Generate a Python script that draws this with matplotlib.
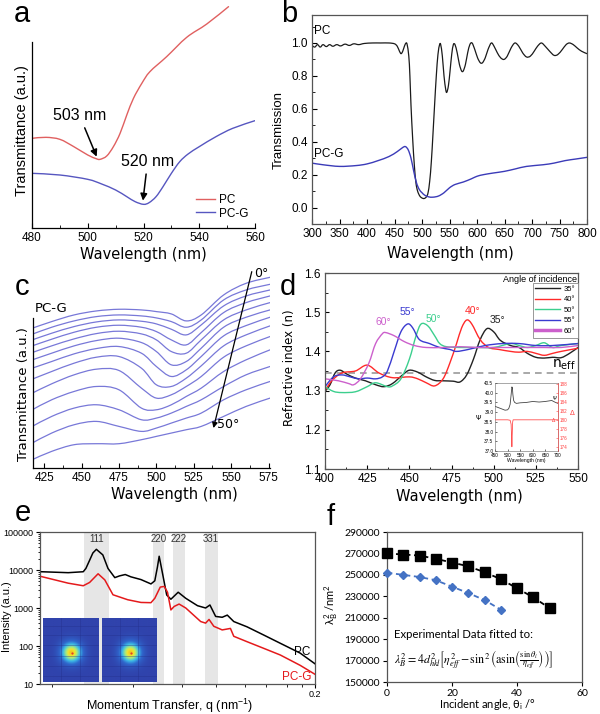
import numpy as np
import matplotlib
matplotlib.use('Agg')
import matplotlib.pyplot as plt
from matplotlib.ticker import MultipleLocator, NullFormatter, LogLocator, FormatStrFormatter
from matplotlib.lines import Line2D
from matplotlib.colors import LinearSegmentedColormap
from matplotlib.path import Path
from matplotlib.patches import PathPatch
import matplotlib.transforms as mtrans

plt.rcParams['font.family'] = ['Liberation Sans', 'DejaVu Sans']
plt.rcParams['axes.linewidth'] = 0.9

# ---------------- data ----------------
# panel a
a_pc_x = [480, 485, 490, 495, 500, 503, 504.4, 506.8, 509.2, 511.6, 514, 516.4, 519.4, 522.3, 528.3, 535.5, 542.7, 550.5]
a_pc_y = [2.85, 2.88, 2.82, 2.60, 2.35, 2.24, 2.22, 2.32, 2.60, 3.00, 3.55, 4.05, 4.50, 4.85, 5.30, 5.88, 6.28, 6.80]
a_pcg_x = [480, 490, 500, 505, 510, 514, 517, 520, 522, 524.5, 527, 530, 533, 536, 540, 546, 552, 560]
a_pcg_y = [1.80, 1.75, 1.62, 1.48, 1.30, 1.10, 0.95, 0.87, 0.92, 1.10, 1.40, 1.80, 2.15, 2.38, 2.60, 2.90, 3.15, 3.38]

# panel b
b_pc_x = [300, 305, 310, 315, 320, 326, 332, 338, 345, 352, 360, 368, 376, 385, 395, 410, 425, 440, 450, 455,
          459, 462, 465, 468, 471, 473, 476, 478, 480, 483, 486, 489, 492, 496, 500, 504, 508, 511, 514, 517,
          520, 523, 526, 529, 532, 534, 537, 540, 543, 545, 548, 551, 554, 557, 560, 564, 568, 572, 575, 579,
          583, 587, 591, 596, 601, 606, 610, 615, 620, 626, 631, 637, 643, 649, 655, 662, 669, 676, 683, 690,
          697, 704, 710, 717, 724, 732, 740, 747, 755, 762, 768, 775, 782, 790, 800]
b_pc_y = [0.985, 0.975, 0.99, 0.975, 0.99, 0.978, 0.99, 0.98, 0.99, 0.982, 0.993, 0.985, 0.995, 0.99, 0.997, 1.0, 1.0, 1.0, 0.995, 0.98,
          0.95, 0.935, 0.95, 0.98, 1.0, 0.99, 0.92, 0.80, 0.62, 0.42, 0.26, 0.15, 0.10, 0.07, 0.058, 0.055, 0.065, 0.09, 0.16, 0.28,
          0.45, 0.63, 0.80, 0.93, 0.99, 0.99, 0.92, 0.80, 0.72, 0.70, 0.74, 0.83, 0.93, 0.99, 0.99, 0.94, 0.87, 0.83, 0.83, 0.87,
          0.94, 0.99, 1.0, 0.96, 0.91, 0.88, 0.88, 0.91, 0.96, 1.0, 0.98, 0.94, 0.91, 0.90, 0.92, 0.97, 1.0, 0.98, 0.94, 0.915,
          0.92, 0.95, 0.98, 1.0, 0.98, 0.95, 0.925, 0.93, 0.96, 0.99, 1.0, 0.99, 0.97, 0.95, 0.935]
b_pcg_x = [300, 320, 350, 380, 400, 420, 440, 455, 465, 470, 475, 480, 485, 490, 495, 500, 505, 512, 520, 530,
           540, 550, 560, 575, 590, 600, 612, 630, 650, 670, 690, 720, 740, 760, 780, 800]
b_pcg_y = [0.27, 0.26, 0.25, 0.255, 0.265, 0.285, 0.31, 0.34, 0.365, 0.37, 0.35, 0.30, 0.22, 0.15, 0.11, 0.09, 0.075, 0.065, 0.063, 0.07,
           0.09, 0.12, 0.14, 0.155, 0.175, 0.19, 0.20, 0.21, 0.22, 0.235, 0.25, 0.26, 0.27, 0.285, 0.295, 0.305]

# panel c (13 spectra, offset, a.u.)
c_x = [417, 430, 445, 460, 475, 490, 500, 510, 520, 530, 545, 560, 576]
c_curves = [
    [4.35, 4.55, 4.75, 4.87, 4.92, 4.90, 4.85, 4.78, 4.57, 4.75, 5.35, 5.70, 5.88],
    [4.17, 4.38, 4.57, 4.70, 4.75, 4.72, 4.66, 4.55, 4.38, 4.60, 5.20, 5.50, 5.67],
    [4.00, 4.20, 4.40, 4.54, 4.60, 4.56, 4.48, 4.32, 4.15, 4.45, 5.02, 5.32, 5.50],
    [3.82, 4.02, 4.23, 4.38, 4.44, 4.38, 4.25, 4.00, 3.85, 4.22, 4.82, 5.12, 5.32],
    [3.62, 3.82, 4.03, 4.19, 4.26, 4.18, 4.00, 3.65, 3.60, 4.00, 4.60, 4.90, 5.12],
    [3.40, 3.60, 3.82, 3.98, 4.05, 3.92, 3.65, 3.25, 3.35, 3.75, 4.38, 4.68, 4.90],
    [3.15, 3.35, 3.58, 3.74, 3.80, 3.60, 3.20, 2.90, 3.10, 3.50, 4.12, 4.43, 4.68],
    [2.82, 3.05, 3.30, 3.48, 3.50, 3.15, 2.65, 2.60, 2.85, 3.22, 3.82, 4.15, 4.42],
    [2.40, 2.68, 2.95, 3.12, 3.08, 2.55, 2.25, 2.35, 2.60, 2.90, 3.48, 3.82, 4.10],
    [1.90, 2.20, 2.45, 2.60, 2.50, 1.95, 1.90, 2.05, 2.30, 2.55, 3.05, 3.40, 3.70],
    [1.40, 1.70, 1.95, 2.05, 1.90, 1.60, 1.65, 1.80, 2.00, 2.20, 2.60, 2.95, 3.20],
    [0.90, 1.20, 1.45, 1.55, 1.40, 1.25, 1.35, 1.50, 1.65, 1.80, 2.20, 2.50, 2.75],
    [0.40, 0.65, 0.85, 0.88, 0.88, 1.00, 1.10, 1.20, 1.30, 1.40, 1.70, 2.00, 2.25],
]

# panel d
d_35_x = [400, 403, 406, 409, 413, 418, 424, 430, 435, 440, 446, 450, 455, 460, 465, 470, 476, 480, 484, 488, 492, 496, 500, 504, 510, 515, 520, 525, 530, 535, 540, 545, 550]
d_35_n = [1.298, 1.315, 1.345, 1.352, 1.342, 1.332, 1.325, 1.315, 1.31, 1.318, 1.34, 1.352, 1.347, 1.335, 1.326, 1.325, 1.324, 1.322, 1.34, 1.38, 1.43, 1.458, 1.45, 1.428, 1.415, 1.41, 1.395, 1.385, 1.383, 1.385, 1.384, 1.395, 1.41]
d_40_x = [400, 404, 410, 418, 425, 432, 440, 450, 455, 460, 465, 470, 474, 478, 481, 484, 487, 492, 497, 503, 510, 515, 520, 525, 530, 535, 540, 550]
d_40_n = [1.30, 1.325, 1.345, 1.35, 1.365, 1.345, 1.333, 1.335, 1.33, 1.32, 1.312, 1.33, 1.37, 1.42, 1.46, 1.48, 1.47, 1.43, 1.41, 1.405, 1.40, 1.398, 1.40, 1.395, 1.39, 1.395, 1.40, 1.408]
d_50_x = [400, 405, 410, 418, 425, 430, 437, 440, 445, 450, 454, 457, 461, 465, 468, 472, 480, 490, 500, 510, 515, 520, 525, 530, 535, 540, 550]
d_50_n = [1.31, 1.298, 1.295, 1.297, 1.31, 1.32, 1.31, 1.312, 1.33, 1.38, 1.44, 1.47, 1.465, 1.44, 1.42, 1.412, 1.41, 1.41, 1.41, 1.42, 1.415, 1.41, 1.415, 1.422, 1.41, 1.415, 1.42]
d_55_x = [400, 405, 410, 415, 420, 425, 430, 434, 437, 441, 445, 449, 452, 456, 462, 468, 474, 478, 485, 495, 505, 515, 525, 535, 550]
d_55_n = [1.31, 1.335, 1.34, 1.335, 1.33, 1.332, 1.33, 1.335, 1.35, 1.40, 1.45, 1.47, 1.46, 1.43, 1.42, 1.41, 1.405, 1.40, 1.405, 1.415, 1.42, 1.42, 1.415, 1.415, 1.42]
d_60_x = [400, 408, 414, 417, 421, 426, 430, 434, 436, 441, 447, 453, 460, 470, 480, 490, 500, 510, 520, 530, 540, 550]
d_60_n = [1.33, 1.325, 1.318, 1.315, 1.33, 1.37, 1.42, 1.445, 1.448, 1.44, 1.425, 1.415, 1.41, 1.41, 1.412, 1.41, 1.41, 1.41, 1.41, 1.41, 1.41, 1.415]
d_labels = ['35°', '40°', '50°', '55°', '60°']
n_eff = 1.345
# inset of d
psi_x = [450, 460, 470, 480, 490, 500, 505, 510, 514, 517, 519, 521, 524, 528, 535, 550, 575, 600, 625, 650, 675, 690, 700]
psi_y = [39.3, 39.25, 39.2, 39.15, 39.1, 39.12, 39.2, 39.4, 39.9, 40.3, 40.25, 39.9, 39.6, 39.5, 39.45, 39.48, 39.5, 39.55, 39.52, 39.55, 39.6, 39.5, 39.45]
delta_x = [450, 500, 510, 514, 516, 517, 518, 520, 522, 530, 600, 700]
delta_y = [180, 180, 179.9, 179, 176, 174, 176, 179.5, 180, 180, 180, 180]

# panel e
e_q_pc = [0.0249, 0.0305, 0.0342, 0.0349, 0.0359, 0.0368, 0.0378, 0.0397, 0.0413, 0.0435, 0.0451, 0.0471, 0.0492, 0.0531, 0.0573, 0.0590, 0.0602, 0.0610, 0.0626, 0.0646, 0.0667, 0.0705, 0.0747, 0.0817, 0.0869, 0.0898, 0.0938, 0.0986, 0.1025, 0.1077, 0.1191, 0.1352, 0.1535, 0.1786, 0.2]
e_I_pc = [9000, 8500, 9000, 11000, 18000, 28000, 35000, 25000, 11000, 6300, 7000, 7600, 6600, 5600, 4300, 5200, 12000, 23000, 8000, 2200, 1700, 2600, 1800, 1150, 1000, 1200, 600, 570, 650, 440, 320, 195, 118, 65, 34]
e_q_pcg = [0.0249, 0.0305, 0.0342, 0.0359, 0.0383, 0.0403, 0.0429, 0.048, 0.0531, 0.0573, 0.059, 0.0615, 0.0634, 0.065, 0.0667, 0.0684, 0.071, 0.0747, 0.0837, 0.0869, 0.0892, 0.0925, 0.0986, 0.105, 0.1077, 0.1191, 0.1352, 0.1535, 0.1786, 0.2]
e_I_pcg = [6700, 4500, 3850, 4700, 7950, 5500, 2230, 1650, 1400, 1380, 1800, 3550, 3700, 2600, 890, 1100, 1270, 1000, 440, 400, 500, 330, 265, 290, 180, 130, 87, 58, 31, 18]
e_bands = [(0.0343, 0.0416), (0.0580, 0.0635), (0.0676, 0.0741), (0.0862, 0.0952)]
e_band_labels = ['111', '220', '222', '331']

# panel f
f_x_pc = [0, 5, 10, 15, 20, 25, 30, 35, 40, 45, 50]
f_y_pc = [270000, 269000, 268000, 265000, 261500, 258000, 252500, 246000, 237500, 229000, 219000]
f_x_pcg = [0, 5, 10, 15, 20, 25, 30, 35]
f_y_pcg = [252000, 250000, 248000, 245000, 239000, 233000, 226500, 217500]

# ---------------- figure ----------------
W, H = 600, 714
fig = plt.figure(figsize=(6, 7.14), dpi=100)


def rect(x0, y0, x1, y1):
    return [x0 / W, 1 - y1 / H, (x1 - x0) / W, (y1 - y0) / H]


def ftext(x, y, s, **kw):
    return fig.text(x / W, 1 - y / H, s, **kw)


def smooth(ax, x, y, color, lw=1.0, zorder=2):
    """Draw the read points as a smooth (Catmull-Rom / Bezier) line in data coordinates."""
    p = np.column_stack([x, y]).astype(float)
    n = len(p)
    verts = [p[0]]
    codes = [Path.MOVETO]
    for i in range(n - 1):
        p0 = p[i - 1] if i > 0 else p[i]
        p3 = p[i + 2] if i + 2 < n else p[i + 1]
        verts += [p[i] + (p[i + 1] - p0) / 6.0, p[i + 1] - (p3 - p[i]) / 6.0, p[i + 1]]
        codes += [Path.CURVE4] * 3
    patch = PathPatch(Path(verts, codes), fill=False, edgecolor=color, lw=lw, zorder=zorder,
                      capstyle='round', joinstyle='round')
    ax.add_patch(patch)
    return patch


# ---- panel a ----
axa = fig.add_axes(rect(32, 5, 255, 228))
axa.patch.set_visible(False)
smooth(axa, a_pc_x, a_pc_y, '#e06060', 1.0)
smooth(axa, a_pcg_x, a_pcg_y, '#5656c0', 1.0)
axa.set_xlim(480, 560)
axa.set_ylim(0.16, 6.85)
for s in ['top', 'right']:
    axa.spines[s].set_visible(False)
axa.spines['left'].set_bounds(0.16, 5.75)
axa.set_yticks([])
axa.xaxis.set_major_locator(MultipleLocator(20))
axa.xaxis.set_minor_locator(MultipleLocator(10))
axa.tick_params(axis='x', which='major', direction='in', length=3.5, labelsize=8.5, pad=3)
axa.tick_params(axis='x', which='minor', direction='in', length=2)
axa.annotate('503 nm', xy=(503.2, 2.3), xytext=(497.0, 3.55), ha='center', va='center', fontsize=11.5,
             arrowprops=dict(arrowstyle='-|>', color='black', lw=1.1, mutation_scale=10, shrinkA=2, shrinkB=0))
axa.annotate('520 nm', xy=(519.8, 0.98), xytext=(521.5, 2.17), ha='center', va='center', fontsize=11.5,
             arrowprops=dict(arrowstyle='-|>', color='black', lw=1.1, mutation_scale=10, shrinkA=2, shrinkB=0))
axa.legend([Line2D([], [], color='#e06060', lw=1.0), Line2D([], [], color='#5656c0', lw=1.0)], ['PC', 'PC-G'],
           loc='lower right', bbox_to_anchor=(1.02, -0.01), frameon=False, fontsize=8.5,
           handlelength=1.6, handletextpad=0.4, labelspacing=0.15)

# ---- panel b ----
axb = fig.add_axes(rect(312, 15, 587, 224))
smooth(axb, b_pc_x, b_pc_y, '#1a1a1a', 0.9)
smooth(axb, b_pcg_x, b_pcg_y, '#3b3bb8', 1.0)
axb.set_xlim(300, 800)
axb.set_ylim(-0.1, 1.17)
axb.xaxis.set_major_locator(MultipleLocator(50))
axb.xaxis.set_minor_locator(MultipleLocator(25))
axb.yaxis.set_major_locator(MultipleLocator(0.2))
axb.yaxis.set_minor_locator(MultipleLocator(0.1))
axb.yaxis.set_major_formatter(FormatStrFormatter('%.1f'))
axb.tick_params(which='major', direction='in', length=3.5, labelsize=8.5, pad=3)
axb.tick_params(which='minor', direction='in', length=2)
for s in axb.spines.values():
    s.set_color('#555555')
axb.text(304, 1.07, 'PC', fontsize=8.5, va='center')
axb.text(304, 0.325, 'PC-G', fontsize=8.5, va='center')

# ---- panel c ----
axc = fig.add_axes(rect(33, 270, 270, 468))
axc.patch.set_visible(False)
for cy in c_curves:
    smooth(axc, c_x, cy, '#7878d8', 0.9)
axc.set_xlim(417.5, 576)
axc.set_ylim(0.15, 6.1)
for s in ['top', 'right']:
    axc.spines[s].set_visible(False)
axc.spines['left'].set_bounds(0.15, 4.65)
axc.set_yticks([])
axc.xaxis.set_major_locator(MultipleLocator(25))
axc.xaxis.set_minor_locator(MultipleLocator(12.5))
axc.tick_params(axis='x', which='major', direction='in', length=3.5, labelsize=8.5, pad=3)
axc.tick_params(axis='x', which='minor', direction='in', length=2)
axc.annotate('', xy=(538.2, 1.35), xytext=(563.8, 6.05),
             arrowprops=dict(arrowstyle='-|>', color='black', lw=0.9, mutation_scale=8, shrinkA=0, shrinkB=0),
             annotation_clip=False)
axc.text(565.5, 6.0, '0°', fontsize=9, va='center', ha='left', family='DejaVu Sans')
axc.text(540.5, 1.45, '50°', fontsize=9, va='center', ha='left', family='DejaVu Sans')
axc.text(418.5, 4.95, 'PC-G', fontsize=9.5, va='center', ha='left', family='DejaVu Sans')

# ---- panel d ----
axd = fig.add_axes(rect(325, 273, 578, 469))
d_colors = ['#222222', '#ff2a2a', '#3ccf8e', '#3a3ad0', '#cc60cc']
d_series = [(d_35_x, d_35_n), (d_40_x, d_40_n), (d_50_x, d_50_n), (d_55_x, d_55_n), (d_60_x, d_60_n)]
for (xx, yy), col in zip(d_series, d_colors):
    smooth(axd, xx, yy, col, 1.0)
axd.axhline(n_eff, color='#9a9a9a', lw=1.2, ls=(0, (4, 3)), zorder=0)
axd.set_xlim(400, 550)
axd.set_ylim(1.1, 1.6)
axd.xaxis.set_major_locator(MultipleLocator(25))
axd.xaxis.set_minor_locator(MultipleLocator(12.5))
axd.yaxis.set_major_locator(MultipleLocator(0.1))
axd.yaxis.set_minor_locator(MultipleLocator(0.05))
axd.yaxis.set_major_formatter(FormatStrFormatter('%.1f'))
axd.tick_params(which='major', direction='in', length=3, labelsize=8.5, pad=3)
axd.tick_params(which='minor', direction='in', length=1.8)
for s in axd.spines.values():
    s.set_color('#555555')
d_lbl_pos = [(502, 1.48), (487.7, 1.503), (464, 1.483), (448.6, 1.50), (434.4, 1.475)]
for lab, (px, py), col in zip(d_labels, d_lbl_pos, d_colors):
    axd.text(px, py, lab, color=col, fontsize=7.5, ha='center', va='center')
axd.text(549, 1.366, r'n$_{\mathrm{eff}}$', fontsize=10, ha='right', va='center', family='DejaVu Sans')
axd.text(0.995, 0.968, 'Angle of incidence', transform=axd.transAxes, fontsize=6.5, ha='right', va='center')
handles = [Line2D([], [], color=c, lw=(2.5 if i == 4 else 1.0)) for i, c in enumerate(d_colors)]
leg = axd.legend(handles, d_labels, loc='upper right', bbox_to_anchor=(1.0, 0.95), fontsize=5.5,
                 frameon=True, fancybox=False, edgecolor='#888888', framealpha=1,
                 handlelength=3.2, handletextpad=0.5, labelspacing=0.42, borderpad=0.35, borderaxespad=0.0)
leg.get_frame().set_linewidth(0.6)

# inset in d
axi = fig.add_axes(rect(495, 383, 558, 451))
axi.plot(psi_x, psi_y, color='#444444', lw=0.6)
axi.set_xlim(450, 700)
axi.set_ylim(37.0, 40.5)
axi.xaxis.set_major_locator(MultipleLocator(50))
axi.yaxis.set_major_locator(MultipleLocator(0.5))
axi.yaxis.set_major_formatter(FormatStrFormatter('%.1f'))
axi.tick_params(direction='in', length=1.2, width=0.4, labelsize=3.3, pad=1.2)
axi.set_xlabel('Wavelength (nm)', fontsize=3.6, labelpad=0.5)
for s in axi.spines.values():
    s.set_linewidth(0.4)
    s.set_color('#666666')
axi2 = axi.twinx()
axi2.plot(delta_x, delta_y, color='#ff5050', lw=0.6)
axi2.set_ylim(173.05, 188.2)
axi2.yaxis.set_major_locator(MultipleLocator(2))
axi2.tick_params(direction='in', length=1.2, width=0.4, labelsize=3.3, pad=1.2, colors='#ff4040')
axi2.spines['right'].set_color('#ff4040')
axi2.spines['right'].set_linewidth(0.4)
for s in ['left', 'top', 'bottom']:
    axi2.spines[s].set_visible(False)
ftext(478, 418, 'Ψ', fontsize=5, ha='center', va='center', family='DejaVu Sans')
ftext(572, 413, 'Δ', fontsize=5, ha='center', va='center', color='#ff4040', family='DejaVu Sans')
ftext(555, 399, 'Ψ', fontsize=3.5, ha='center', va='center', family='DejaVu Sans')
ftext(554, 421, 'Δ', fontsize=3.5, ha='center', va='center', color='#ff4040', family='DejaVu Sans')

# ---- panel e ----
axe = fig.add_axes(rect(40, 532, 315, 684))
for (q0, q1) in e_bands:
    axe.axvspan(q0, q1, color='#e6e6e6', lw=0, zorder=0)
axe.plot(e_q_pc, e_I_pc, color='black', lw=1.1, zorder=3)
axe.plot(e_q_pcg, e_I_pcg, color='#e41a1c', lw=1.1, zorder=3)
axe.set_xscale('log')
axe.set_yscale('log')
axe.set_xlim(0.0246, 0.2)
axe.set_ylim(10, 100000)
axe.set_yticks([10, 100, 1000, 10000, 100000])
axe.set_yticklabels(['10', '100', '1000', '10000', '100000'])
axe.yaxis.set_minor_locator(LogLocator(base=10, subs=np.arange(2, 10)))
axe.yaxis.set_minor_formatter(NullFormatter())
axe.set_xticks([0.2])
axe.set_xticklabels(['0.2'])
axe.set_xticks([0.027, 0.05, 0.0725, 0.094, 0.117, 0.138, 0.161, 0.181], minor=True)
axe.xaxis.set_minor_formatter(NullFormatter())
axe.tick_params(which='major', direction='out', length=3, labelsize=6.5, pad=1.5)
axe.tick_params(which='minor', direction='out', length=1.8)
for s in axe.spines.values():
    s.set_color('#555555')
trans_e = mtrans.blended_transform_factory(axe.transData, axe.transAxes)
for (q0, q1), lab in zip(e_bands, e_band_labels):
    axe.text(np.sqrt(q0 * q1), 0.955, lab, transform=trans_e, fontsize=7, ha='center', va='center',
             color='#333333', zorder=4)
axe.text(0.181, 69, 'PC', fontsize=8.5, ha='center', va='center', zorder=4)
axe.text(0.174, 15.3, 'PC-G', fontsize=8.5, ha='center', va='center', color='#e41a1c', zorder=4)

# SAXS detector images (decorative insets)
saxs_cmap = LinearSegmentedColormap.from_list(
    'saxs', [(0.0, '#3043ac'), (0.3, '#2f66cc'), (0.55, '#3cbce8'), (0.78, '#a6ea80'), (0.92, '#f4e42c'), (1.0, '#f2c61e')])
for (x0, x1, cx) in [(43, 99, 0.51), (102, 157, 0.52)]:
    axim = fig.add_axes(rect(x0, 618, x1, 682))
    gy, gx = np.mgrid[0:1:160j, 0:1:160j]
    rr = np.hypot((gx - cx) * 0.875, gy - 0.54)
    axim.imshow(np.exp(-(rr / 0.17) ** 2), cmap=saxs_cmap, extent=(0, 1, 1, 0), aspect='auto',
                vmin=0, vmax=1, interpolation='bilinear')
    for yy in [0.12, 0.27, 0.42, 0.6, 0.75, 0.9]:
        axim.axhline(yy, color='#24308c', lw=0.45, alpha=0.6)
    for xx in [0.33, 0.66]:
        axim.axvline(xx, color='#24308c', lw=0.45, alpha=0.6)
    axim.plot([cx], [0.54], 'o', color='#e0402a', ms=1.6, mew=0)
    axim.set_xlim(0, 1)
    axim.set_ylim(1, 0)
    axim.axis('off')

# ---- panel f ----
axf = fig.add_axes(rect(387, 532, 582, 682))
axf.plot(f_x_pc, f_y_pc, ls=(0, (3, 2)), color='black', lw=1.3, marker='s', ms=7, mec='black', mfc='black',
         clip_on=False, zorder=3)
axf.plot(f_x_pcg, f_y_pcg, ls=(0, (3, 2)), color='#4472c4', lw=1.3, marker='D', ms=4.5, mec='#4472c4',
         mfc='#4472c4', clip_on=False, zorder=3)
axf.set_xlim(0, 60)
axf.set_ylim(150000, 290000)
axf.set_xticks([0, 20, 40, 60])
axf.set_yticks(np.arange(150000, 290001, 20000))
axf.tick_params(direction='out', length=3, labelsize=7.5, pad=2, labelfontfamily='Lato')
for s in axf.spines.values():
    s.set_color('#555555')
axf.text(2.3, 194800, 'Experimental Data fitted to:', fontsize=8.2, family='Lato', va='center', ha='left')
axf.text(2.0, 171000,
         r'$\lambda_B^2 = 4d_{hkl}^2\left[\eta_{eff}^2-\sin^2\left(\mathrm{asin}\left(\frac{\sin\theta_i}{\eta_{eff}}\right)\right)\right]$',
         fontsize=8.6, math_fontfamily='stix', va='center', ha='left')

# ---------------- figure-level labels ----------------
for lab, x, y in [('a', 22, 22), ('b', 289, 22), ('c', 22, 295), ('d', 288, 295), ('e', 23, 521), ('f', 331, 525)]:
    ftext(x, y, lab, fontsize=21, ha='center', va='baseline', family='Liberation Sans')

ftext(143, 254, 'Wavelength (nm)', fontsize=10.5, ha='center', va='center', family='DejaVu Sans')
ftext(450, 253, 'Wavelength (nm)', fontsize=10.5, ha='center', va='center', family='DejaVu Sans')
ftext(174, 495, 'Wavelength (nm)', fontsize=10.5, ha='center', va='center', family='DejaVu Sans')
ftext(459, 497, 'Wavelength (nm)', fontsize=10.5, ha='center', va='center', family='DejaVu Sans')
ftext(22, 131, 'Transmittance (a.u.)', fontsize=10.5, rotation=90, ha='center', va='center', family='Liberation Sans')
ftext(279, 130, 'Transmission', fontsize=9.5, rotation=90, ha='center', va='center', family='Liberation Sans')
ftext(24, 394, 'Transmittance (a.u.)', fontsize=9.5, rotation=90, ha='center', va='center', family='DejaVu Sans')
ftext(289, 368, 'Refractive index (n)', fontsize=8.5, rotation=90, ha='center', va='center', family='DejaVu Sans')
ftext(7, 617, 'Intensity (a.u.)', fontsize=8, rotation=90, ha='center', va='center', family='Liberation Sans')
ftext(170, 706, r'Momentum Transfer, q (nm$^{\mathregular{-1}}$)', fontsize=9, ha='center', va='center',
      family='Liberation Sans')
ftext(331, 605, r'λ$_{\mathregular{B}}^{\mathregular{2}}$ /nm$^{\mathregular{2}}$', fontsize=8, rotation=90,
      ha='center', va='center', family='Lato')
ftext(487, 705, r'Incident angle, θ$_{\mathregular{i}}$ /°', fontsize=8, ha='center', va='center', family='Lato')

fig.savefig('out.png', dpi=100)
